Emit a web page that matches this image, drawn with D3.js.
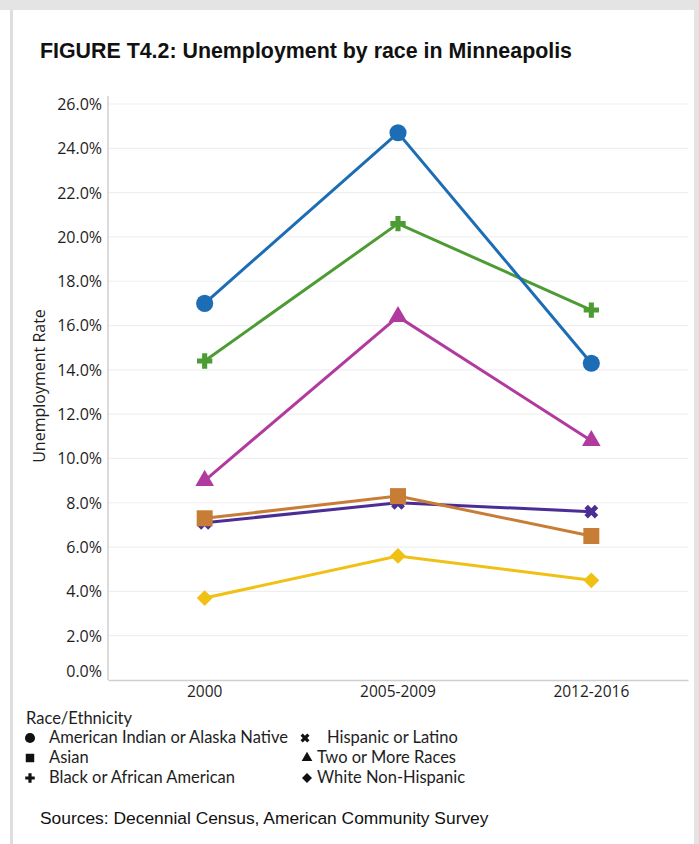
<!DOCTYPE html>
<html>
<head>
<meta charset="utf-8">
<script src="https://cdn.jsdelivr.net/npm/d3@7"></script>
<style>
  html, body { margin: 0; padding: 0; background: #fff; }
  svg { display: block; }
</style>
</head>
<body>
<svg id="chart" width="699" height="844"></svg>
<script>
// ---- Data ----
const periods = ["2000", "2005-2009", "2012-2016"];
const seriesNames = [
  "American Indian or Alaska Native",
  "Asian",
  "Black or African American",
  "Hispanic or Latino",
  "Two or More Races",
  "White Non-Hispanic"
];
const americanIndian = [17.0, 24.7, 14.3];
const asian = [7.3, 8.3, 6.5];
const black = [14.4, 20.6, 16.7];
const hispanic = [7.1, 8.0, 7.6];
const twoOrMore = [9.0, 16.4, 10.8];
const white = [3.7, 5.6, 4.5];
const yTicks = [0, 2, 4, 6, 8, 10, 12, 14, 16, 18, 20, 22, 24, 26];

const seriesValues = {
  "American Indian or Alaska Native": americanIndian,
  "Asian": asian,
  "Black or African American": black,
  "Hispanic or Latino": hispanic,
  "Two or More Races": twoOrMore,
  "White Non-Hispanic": white
};
const colors = {
  "American Indian or Alaska Native": "#1d6db5",
  "Asian": "#c87d37",
  "Black or African American": "#4c9b33",
  "Hispanic or Latino": "#4a2e96",
  "Two or More Races": "#b13a9e",
  "White Non-Hispanic": "#f1c015"
};
const symbols = {
  "American Indian or Alaska Native": {type: d3.symbolCircle, size: 230, rot: 0, leg: 80},
  "Asian": {type: d3.symbolSquare, size: 256, rot: 0, leg: 72},
  "Black or African American": {type: d3.symbolCross, size: 130, rot: 0, leg: 50},
  "Hispanic or Latino": {type: d3.symbolCross, size: 120, rot: 45, leg: 50},
  "Two or More Races": {type: d3.symbolTriangle, size: 150, rot: 0, leg: 50},
  "White Non-Hispanic": {type: d3.symbolSquare, size: 125, rot: 45, leg: 50}
};
const drawOrder = [
  "White Non-Hispanic", "Two or More Races", "Hispanic or Latino",
  "Asian", "Black or African American", "American Indian or Alaska Native"
];

const svg = d3.select("#chart");
const tickFont = "'Open Sans', 'Noto Sans', sans-serif";

// ---- Frame ----
svg.append("rect").attr("x", 0).attr("y", 0).attr("width", 699).attr("height", 10).attr("fill", "#e4e4e4");
svg.append("rect").attr("x", 10).attr("y", 10).attr("width", 3).attr("height", 834).attr("fill", "#dedede");
svg.append("rect").attr("x", 694).attr("y", 10).attr("width", 5).attr("height", 834).attr("fill", "#e4e4e4");

// ---- Title ----
svg.append("text")
  .attr("x", 40).attr("y", 58)
  .attr("font-family", "'Liberation Sans', Arial, sans-serif")
  .attr("font-weight", "bold")
  .attr("font-size", 22.5)
  .attr("textLength", 532)
  .attr("lengthAdjust", "spacingAndGlyphs")
  .attr("fill", "#111")
  .text("FIGURE T4.2: Unemployment by race in Minneapolis");

// ---- Scales ----
const x = d3.scaleBand().domain(periods).range([108, 688]);
const y = d3.scaleLinear().domain([0, 26]).range([680, 104]);
const cx = d => x(d) + x.bandwidth() / 2;

// gridlines
svg.append("g")
  .selectAll("line")
  .data(yTicks.filter(t => t > 0))
  .join("line")
  .attr("x1", 108).attr("x2", 688)
  .attr("y1", d => y(d)).attr("y2", d => y(d))
  .attr("stroke", "#efefef").attr("stroke-width", 1.2);

// y axis
const yAxis = svg.append("g")
  .attr("transform", "translate(108,0)")
  .call(d3.axisLeft(y).tickValues(yTicks).tickFormat(d => d3.format(".1f")(d) + "%").tickSize(0).tickPadding(6));
yAxis.select(".domain").attr("stroke", "#cfcfcf").attr("stroke-width", 1.5).attr("d", "M0,96V680");
yAxis.selectAll("text")
  .attr("font-family", tickFont).attr("font-size", 16).attr("fill", "#1e1e1e")
  .attr("dy", d => d === 0 ? "-0.2em" : "0.34em");

// x axis
const xAxis = svg.append("g")
  .attr("transform", "translate(0,680)")
  .call(d3.axisBottom(x).tickSize(0).tickPadding(6));
xAxis.select(".domain").attr("stroke", "#cfcfcf").attr("stroke-width", 1.5);
xAxis.selectAll("text")
  .attr("font-family", tickFont).attr("font-size", 15.5).attr("fill", "#1e1e1e");

// y title
svg.append("text")
  .attr("transform", "translate(45,386) rotate(-90)")
  .attr("text-anchor", "middle")
  .attr("font-family", tickFont).attr("font-size", 16).attr("fill", "#1e1e1e")
  .text("Unemployment Rate");

// ---- Lines & markers ----
const line = d3.line().x(d => cx(d.p)).y(d => y(d.v));
drawOrder.forEach(name => {
  const pts = periods.map((p, i) => ({p, v: seriesValues[name][i]}));
  const g = svg.append("g");
  g.append("path").datum(pts)
    .attr("d", line).attr("fill", "none")
    .attr("stroke", colors[name]).attr("stroke-width", 3);
  const s = symbols[name];
  g.selectAll("path.m").data(pts).join("path")
    .attr("class", "m")
    .attr("d", d3.symbol().type(s.type).size(s.size))
    .attr("transform", d => `translate(${cx(d.p)},${y(d.v)}) rotate(${s.rot})`)
    .attr("fill", colors[name]);
});

// ---- Legend ----
const legFont = "Lato, 'Open Sans', sans-serif";
const legSize = 16.5;
svg.append("text").attr("x", 26).attr("y", 724)
  .attr("font-family", legFont).attr("font-size", legSize).attr("fill", "#1e1e1e")
  .text("Race/Ethnicity");
const legendPos = [
  {name: seriesNames[0], sx: 30, tx: 49, y: 743},
  {name: seriesNames[1], sx: 30, tx: 49, y: 763},
  {name: seriesNames[2], sx: 30, tx: 49, y: 783},
  {name: seriesNames[3], sx: 305, tx: 327, y: 743},
  {name: seriesNames[4], sx: 307, tx: 317, y: 763},
  {name: seriesNames[5], sx: 307, tx: 317, y: 783}
];
legendPos.forEach(l => {
  const s = symbols[l.name];
  svg.append("path")
    .attr("d", d3.symbol().type(s.type).size(s.leg))
    .attr("transform", `translate(${l.sx},${l.y - 5}) rotate(${s.rot})`)
    .attr("fill", "#111");
  svg.append("text").attr("x", l.tx).attr("y", l.y)
    .attr("font-family", legFont).attr("font-size", legSize).attr("fill", "#1e1e1e")
    .text(l.name);
});

// ---- Source ----
svg.append("text").attr("x", 40).attr("y", 824)
  .attr("font-family", "'Liberation Sans', Arial, sans-serif").attr("font-size", 17.4).attr("fill", "#111")
  .text("Sources: Decennial Census, American Community Survey");
</script>
</body>
</html>
